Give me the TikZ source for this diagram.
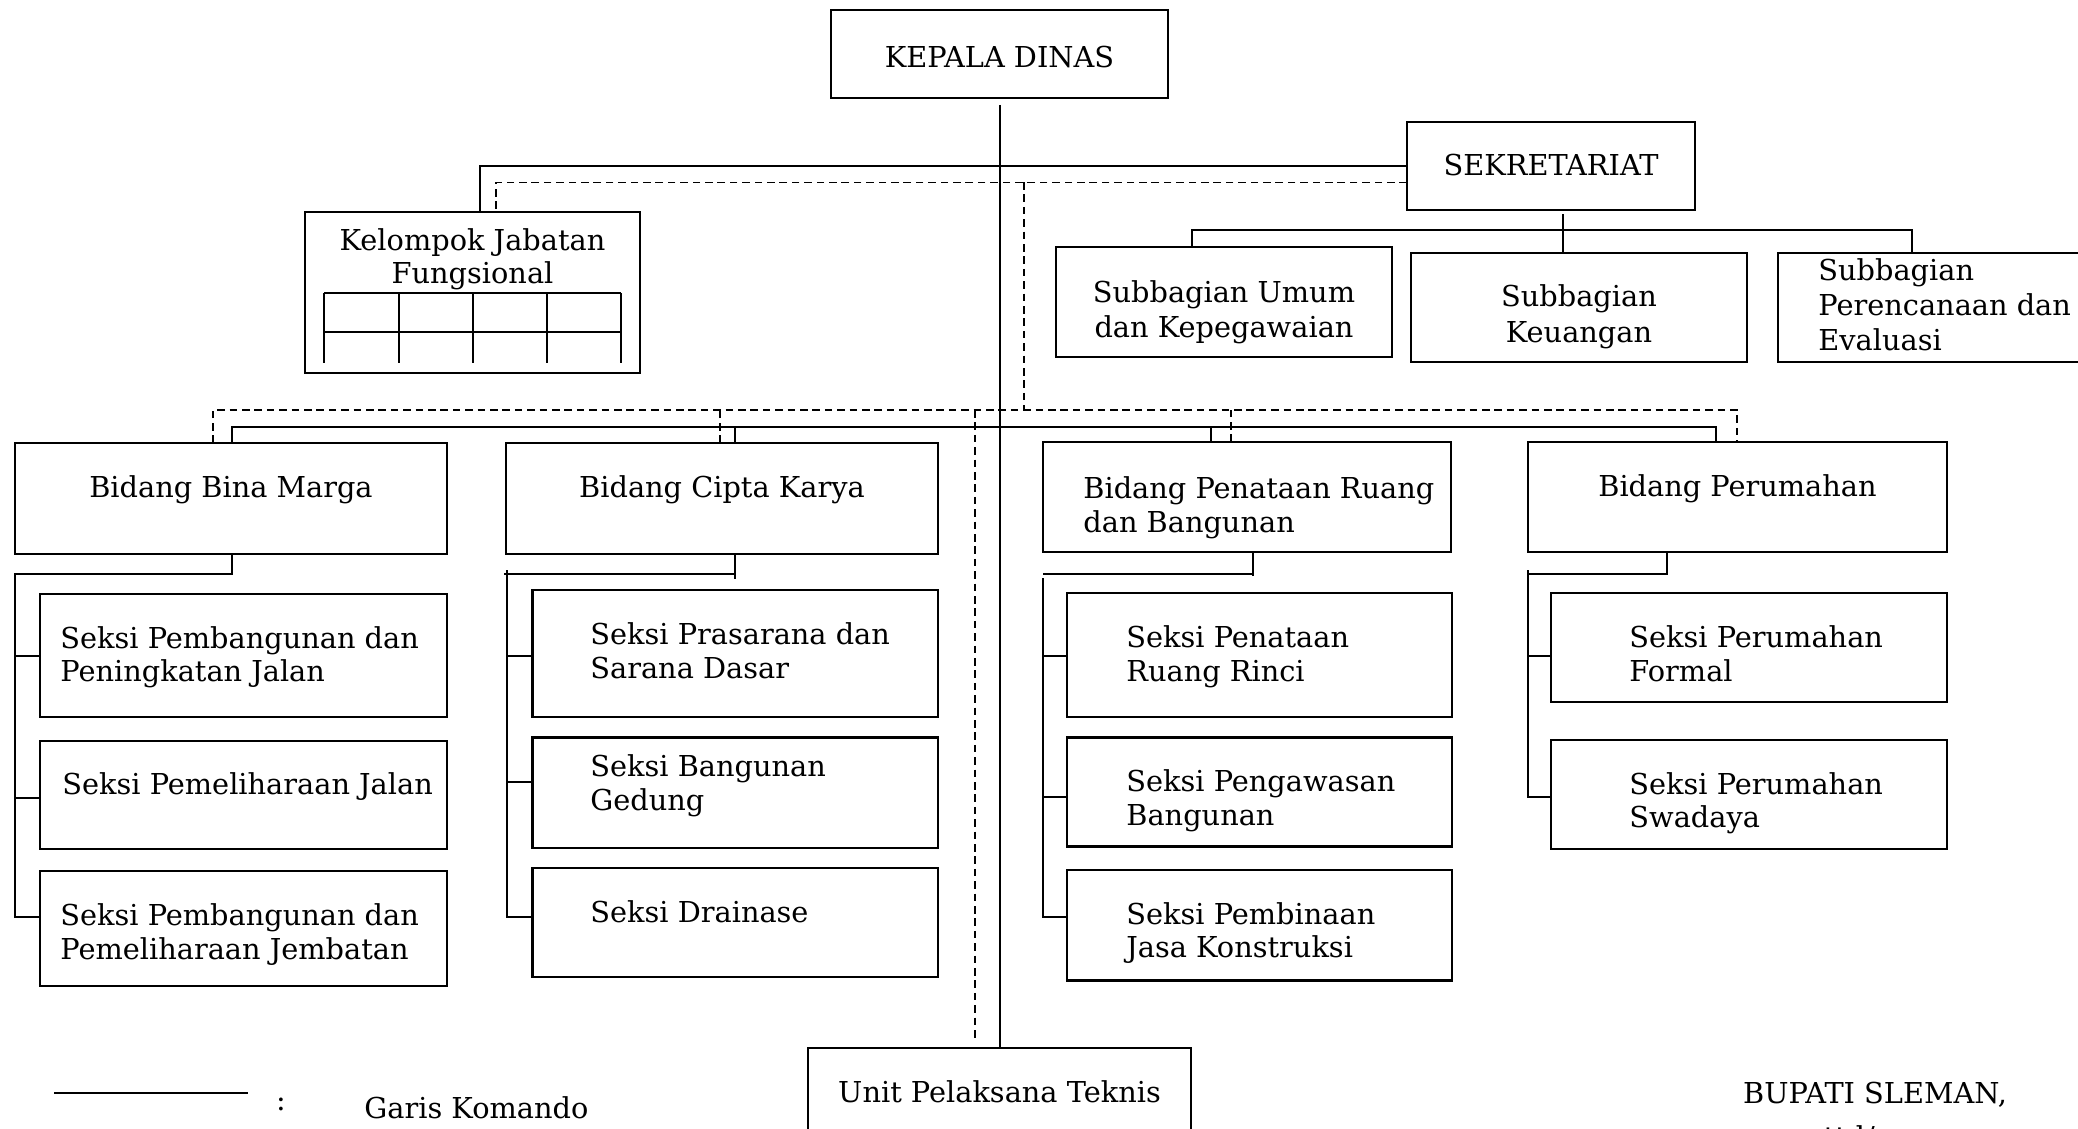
\documentclass[tikz,border=0pt]{standalone}
\usepackage{fontspec}
\setmainfont{DejaVu Serif}
\usetikzlibrary{calc,fit}
\begin{document}
\begin{tikzpicture}[x=0.5pt,y=-0.5pt,
  font=\fontsize{14.4}{17}\selectfont,
  box/.style={draw, line width=1.1pt, inner sep=0pt, outer sep=0pt},
  ctr/.style={inner sep=0pt, anchor=base},
  lft/.style={inner sep=0pt, anchor=base west},
  cmd/.style={line width=1pt},
  crd/.style={line width=0.9pt, dash pattern=on 3.8pt off 2.4pt},
  gridln/.style={line width=1pt},
]
\useasboundingbox (0,0) rectangle (2078,1129);
\clip (0,0) rectangle (2078,1129);

% ---------- head and secretariat ----------
\node[box, fit={(831,10)(1168,98)}] (kd) {};
\node[ctr] (kdt) at (999.5,68) {KEPALA DINAS};

\node[box, fit={(1407,122)(1695,210)}] (sek) {};
\node[ctr] (sekt) at (1551,176) {SEKRETARIAT};

\node[box, fit={(305,212)(640,373)}] (kjf) {};
\node[ctr] (kjfa) at (472.5,250) {Kelompok Jabatan};
\node[ctr] (kjfb) at (472.5,283) {Fungsional};
% table inside the functional group box
\draw[gridln] (324,293) -- (621,293) (324,332) -- (621,332);
\foreach \gx in {324,399,473,546.5,621} \draw[gridln] (\gx,293) -- (\gx,363);

\node[box, fit={(1056,247)(1392,357)}] (sub1) {};
\node[ctr] (sub1a) at (1224,302) {Subbagian Umum};
\node[ctr] (sub1b) at (1224,337) {dan Kepegawaian};

\node[box, fit={(1411,253)(1747,362)}] (sub2) {};
\node[ctr] (sub2a) at (1579,306) {Subbagian};
\node[ctr] (sub2b) at (1579,342) {Keuangan};

\node[box, fit={(1778,253)(2095,362)}] (sub3) {};
\node[lft] (sub3a) at (1818,280) {Subbagian};
\node[lft] (sub3b) at (1818,315) {Perencanaan dan};
\node[lft] (sub3c) at (1818,350) {Evaluasi};

% ---------- fields ----------
\node[box, fit={(15,443)(447,554)}] (bm) {};
\node[ctr] (bmt) at (231,497) {Bidang Bina Marga};

\node[box, fit={(506,443)(938,554)}] (ck) {};
\node[ctr] (ckt) at (722,497) {Bidang Cipta Karya};

\node[box, fit={(1043,442)(1451,552)}] (prb) {};
\node[lft] (prbta) at (1083,498) {Bidang Penataan Ruang};
\node[lft] (prbtb) at (1083,532) {dan Bangunan};

\node[box, fit={(1528,442)(1947,552)}] (pr) {};
\node[ctr] (prt) at (1737.5,496) {Bidang Perumahan};

% ---------- sections ----------
\node[box, fit={(40,594)(447,717)}] (bm1) {};
\node[lft] (bm1a) at (60,648) {Seksi Pembangunan dan};
\node[lft] (bm1b) at (60,681) {Peningkatan Jalan};
\node[box, fit={(40,741)(447,849)}] (bm2) {};
\node[lft] (bm2a) at (62,794) {Seksi Pemeliharaan Jalan};
\node[box, fit={(40,871)(447,986)}] (bm3) {};
\node[lft] (bm3a) at (60,925) {Seksi Pembangunan dan};
\node[lft] (bm3b) at (60,959) {Pemeliharaan Jembatan};

\node[box, fit={(532.5,590)(938,717)}] (ck1) {};
\node[lft] (ck1a) at (590,644) {Seksi Prasarana dan};
\node[lft] (ck1b) at (590,678) {Sarana Dasar};
\node[box, fit={(532.5,737.5)(938,848)}] (ck2) {};
\node[lft] (ck2a) at (590,776) {Seksi Bangunan};
\node[lft] (ck2b) at (590,810) {Gedung};
\node[box, fit={(532.5,868)(938,977)}] (ck3) {};
\node[lft] (ck3a) at (590,922) {Seksi Drainase};

\node[box, fit={(1067,593)(1452,717)}] (prb1) {};
\node[lft] (prb1a) at (1126,647) {Seksi Penataan};
\node[lft] (prb1b) at (1126,681) {Ruang Rinci};
\node[box, fit={(1067,737.5)(1452,846.5)}] (prb2) {};
\node[lft] (prb2a) at (1126,791) {Seksi Pengawasan};
\node[lft] (prb2b) at (1126,825) {Bangunan};
\node[box, fit={(1067,870)(1452,980.5)}] (prb3) {};
\node[lft] (prb3a) at (1126,924) {Seksi Pembinaan};
\node[lft] (prb3b) at (1126,957) {Jasa Konstruksi};

\node[box, fit={(1551,593)(1947,702)}] (pr1) {};
\node[lft] (pr1a) at (1629,647) {Seksi Perumahan};
\node[lft] (pr1b) at (1629,681) {Formal};
\node[box, fit={(1551,740)(1947,849)}] (pr2) {};
\node[lft] (pr2a) at (1629,794) {Seksi Perumahan};
\node[lft] (pr2b) at (1629,827) {Swadaya};

% ---------- technical unit ----------
\node[box, fit={(808,1048)(1191,1145)}] (upt) {};
\node[ctr] (uptt) at (999.5,1102) {Unit Pelaksana Teknis};

% ---------- command lines ----------
\draw[cmd] ($(kd.south)+(0.5,7)$) -- ($(upt.north)+(0.5,0)$);
\draw[cmd] (sek.west) -| ($(kjf.north west)+(175,0)$);
\draw[cmd] ($(sek.south)+(12,4)$) -- ($(sub2.north west)+(152,0)$);
\draw[cmd] ($(sub1.north west)+(136,0)$) |- ($(sub3.north west)+(134,-23)$) -- ++(0,23);

\draw[cmd] ($(bm.north west)+(217,0)$) -- ++(0,-16) -- ($(pr.north west)+(188,-15)$) -- ++(0,15);
\draw[cmd] ($(ck.north west)+(229,0)$) -- ++(0,-16);
\draw[cmd] ($(prb.north west)+(168,0)$) -- ++(0,-15);

% Bina Marga sections
\draw[cmd] ($(bm.south west)+(217,0)$) -- ++(0,20) -- ++(-217,0) |- ($(bm3.north west)+(0,46)$);
\draw[cmd] ($(bm1.north west)+(-25,62)$) -- ++(25,0);
\draw[cmd] ($(bm2.north west)+(-25,57)$) -- ++(25,0);
% Cipta Karya sections
\draw[cmd] ($(ck.south west)+(229,0)$) -- ++(0,25);
\draw[cmd] ($(ck.south west)+(229,20)$) -- ++(-231,0);
\draw[cmd] ($(ck1.north west)+(-25.5,-20)$) |- ($(ck3.north west)+(0,49)$);
\draw[cmd] ($(ck1.north west)+(-25.5,66)$) -- ++(25.5,0);
\draw[cmd] ($(ck2.north west)+(-25.5,44.5)$) -- ++(25.5,0);
% Penataan Ruang sections
\draw[cmd] ($(prb.south west)+(210,0)$) -- ++(0,24);
\draw[cmd] ($(prb.south west)+(210,22)$) -- ++(-210,0);
\draw[cmd] ($(prb1.north west)+(-24,-15)$) |- ($(prb3.north west)+(0,47)$);
\draw[cmd] ($(prb1.north west)+(-24,63)$) -- ++(24,0);
\draw[cmd] ($(prb2.north west)+(-24,59.5)$) -- ++(24,0);
% Perumahan sections
\draw[cmd] ($(pr.south west)+(139,0)$) -- ++(0,22) -- ++(-139,0);
\draw[cmd] ($(pr1.north west)+(-23,-23)$) |- ($(pr2.north west)+(0,57)$);
\draw[cmd] ($(pr1.north west)+(-23,63)$) -- ++(23,0);

% ---------- coordination lines ----------
\coordinate (dj) at (1024,182);
\coordinate (dk) at (1024,410);
\coordinate (du) at (975,410);
\draw[crd] ($(sek.west)+(0,16.5)$) -| ($(kjf.north west)+(191,0)$);
\draw[crd] (dj) -- (dk);
\draw[crd] ($(bm.north west)+(198,0)$) -- ++(0,-33) -| ($(pr.north west)+(209,0)$);
\draw[crd] ($(ck.north west)+(214,0)$) -- ++(0,-33);
\draw[crd] ($(prb.north west)+(188,0)$) -- ++(0,-32);
\draw[crd] (du) -- ($(du |- upt.north)+(0,-10)$);

% ---------- legend and signature ----------
\coordinate (lga) at (54,1093);
\coordinate (lgb) at (248,1093);
\draw[cmd] (lga) -- (lgb);
\node[ctr] (lgc) at (281,1110) {:};
\node[lft] (lgt) at (364,1118) {Garis Komando};

\node[ctr] (bup) at (1875,1103) {BUPATI SLEMAN,};
\node[ctr] (ttd) at (1875,1147) {ttd/cap};
\end{tikzpicture}
\end{document}
